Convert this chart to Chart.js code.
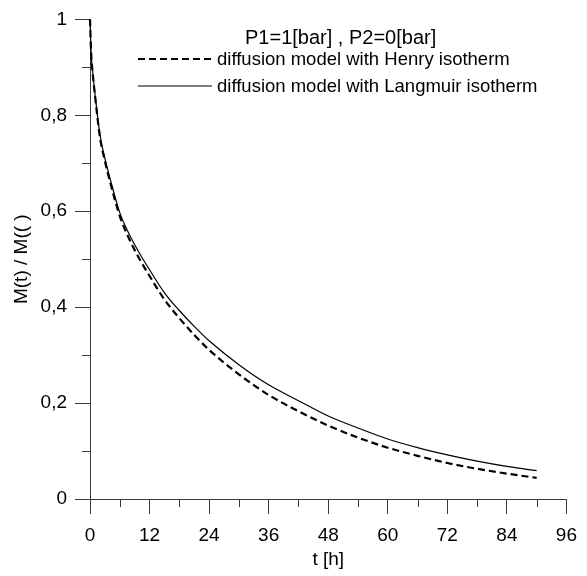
<!DOCTYPE html>
<html>
<head>
<meta charset="utf-8">
<script src="https://cdn.jsdelivr.net/npm/chart.js@4/dist/chart.umd.min.js"></script>
<style>
  html, body { margin: 0; padding: 0; background: #fff; }
  #wrap { width: 587px; height: 576px; }
</style>
</head>
<body>
<div id="wrap"><canvas id="myChart" width="587" height="576"></canvas></div>
<script>
// t [h]
const hours = [0, 0.25, 0.5, 1, 2, 3, 4, 6, 8, 10, 12, 15, 18, 21, 24, 30, 36, 42, 48, 54, 60, 66, 72, 78, 84, 90];
// M(t)/M(inf)
const henry = [1, 0.925, 0.893, 0.842, 0.755, 0.705, 0.663, 0.59, 0.54, 0.5, 0.465, 0.416, 0.377, 0.342, 0.311, 0.26, 0.217, 0.183, 0.153, 0.128, 0.107, 0.09, 0.075, 0.063, 0.053, 0.044];
const langmuir = [1, 0.925, 0.895, 0.845, 0.76, 0.71, 0.67, 0.597, 0.55, 0.512, 0.478, 0.43, 0.393, 0.36, 0.33, 0.28, 0.238, 0.205, 0.173, 0.148, 0.125, 0.107, 0.092, 0.079, 0.068, 0.059];

const seriesLabels = ['diffusion model with Henry isotherm', 'diffusion model with Langmuir isotherm'];
const legendTitle = 'P1=1[bar] , P2=0[bar]';
const xTitle = 't [h]';
const yTitle = 'M(t) / M(( )';

const FONT = "'Liberation Sans', Arial, sans-serif";
const axisColor = '#3a3a3a';

const toPoints = (ys) => hours.map((t, i) => ({ x: t, y: ys[i] }));

// minor ticks + inside legend
const extras = {
    id: 'extras',
    afterDraw(chart) {
        const ctx = chart.ctx;
        const xs = chart.scales.x, ys = chart.scales.y;
        const area = chart.chartArea;
        ctx.save();
        ctx.strokeStyle = axisColor;
        ctx.lineWidth = 1;
        ctx.beginPath();
        for (let v = 6; v < 96; v += 12) {
            const px = Math.round(xs.getPixelForValue(v)) + 0.5;
            ctx.moveTo(px, area.bottom);
            ctx.lineTo(px, area.bottom + 8);
        }
        for (let v = 0.1; v < 1; v += 0.2) {
            const py = Math.round(ys.getPixelForValue(v)) + 0.5;
            ctx.moveTo(area.left, py);
            ctx.lineTo(area.left - 8, py);
        }
        ctx.stroke();

        // legend
        ctx.fillStyle = '#000';
        ctx.textBaseline = 'middle';
        ctx.textAlign = 'left';
        ctx.font = '20px ' + FONT;
        ctx.fillText(legendTitle, 245, 38);
        ctx.font = '18.5px ' + FONT;
        chart.data.datasets.forEach((ds, i) => {
            const y = 59 + i * 27;
            ctx.strokeStyle = ds.borderColor;
            ctx.lineWidth = ds.borderWidth;
            ctx.setLineDash(ds.borderDash || []);
            ctx.beginPath();
            ctx.moveTo(138, y);
            ctx.lineTo(212, y);
            ctx.stroke();
            ctx.setLineDash([]);
            ctx.fillText(ds.label, 217, y + 1);
        });
        ctx.restore();
    }
};

new Chart(document.getElementById('myChart').getContext('2d'), {
    type: 'line',
    data: {
        datasets: [
            {
                label: seriesLabels[0],
                data: toPoints(henry),
                borderColor: '#000',
                borderWidth: 2.2,
                borderDash: [7, 4],
                pointRadius: 0,
                cubicInterpolationMode: 'monotone',
                clip: false
            },
            {
                label: seriesLabels[1],
                data: toPoints(langmuir),
                borderColor: '#000',
                borderWidth: 1.2,
                pointRadius: 0,
                cubicInterpolationMode: 'monotone',
                clip: false
            }
        ]
    },
    options: {
        responsive: false,
        animation: false,
        layout: { padding: { top: 16, right: 16, left: 0, bottom: 0 } },
        plugins: {
            legend: { display: false },
            tooltip: { enabled: false }
        },
        scales: {
            x: {
                type: 'linear',
                min: 0,
                max: 96,
                afterFit: (s) => { s.height = 77; },
                border: { display: true, color: axisColor, width: 1 },
                grid: { drawOnChartArea: false, drawTicks: true, tickLength: 15, color: axisColor },
                ticks: {
                    stepSize: 12,
                    padding: 10,
                    color: '#000',
                    maxRotation: 0,
                    font: { family: FONT, size: 19 }
                },
                title: {
                    display: true,
                    text: xTitle,
                    color: '#000',
                    padding: { top: 0, bottom: 5 },
                    font: { family: FONT, size: 19 }
                }
            },
            y: {
                min: 0,
                max: 1,
                afterFit: (s) => { s.width = 90; },
                border: { display: true, color: axisColor, width: 1 },
                grid: { drawOnChartArea: false, drawTicks: true, tickLength: 15, color: axisColor },
                ticks: {
                    stepSize: 0.2,
                    padding: 8,
                    color: '#000',
                    font: { family: FONT, size: 19 },
                    callback: (v) => String(Math.round(v * 10) / 10).replace('.', ',')
                },
                title: {
                    display: true,
                    text: yTitle,
                    color: '#000',
                    padding: { top: 10, bottom: 0 },
                    font: { family: FONT, size: 19 }
                }
            }
        }
    },
    plugins: [extras]
});
</script>
</body>
</html>
